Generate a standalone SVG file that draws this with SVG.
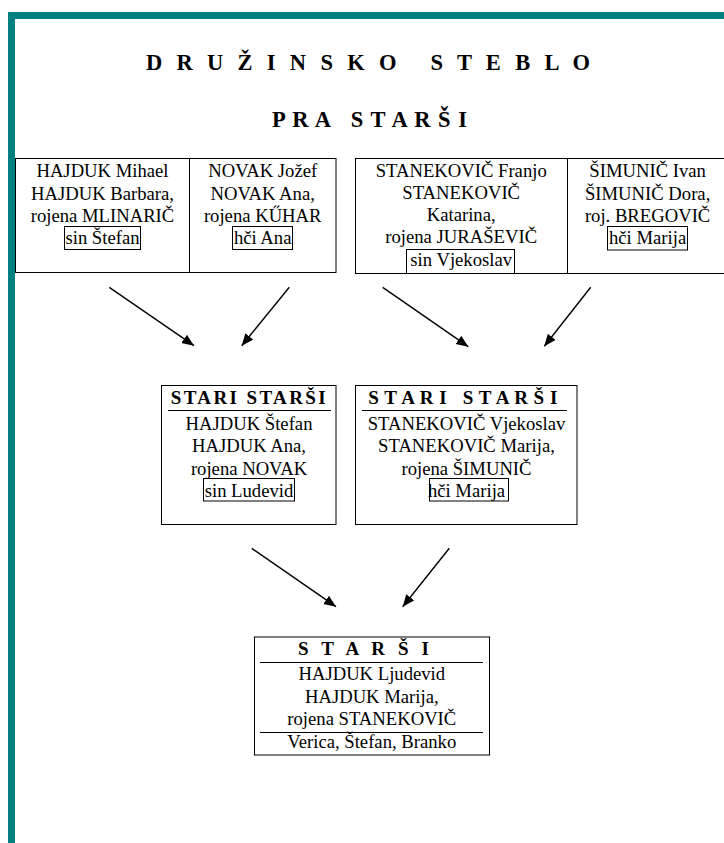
<svg xmlns="http://www.w3.org/2000/svg" width="724" height="843" viewBox="0 0 724 843">
<style>
  .t { font-family: "Liberation Serif", "Times New Roman", serif; font-size: 18.67px; fill: #000; text-anchor: middle; }
  .h { font-family: "Liberation Serif", "Times New Roman", serif; font-size: 19px; font-weight: bold; fill: #000; white-space: pre; }
  .title { font-family: "Liberation Serif", "Times New Roman", serif; font-size: 22.5px; font-weight: bold; fill: #000; white-space: pre; }
  .box { fill: none; stroke: #000; stroke-width: 1; }
  .rule { stroke: #000; stroke-width: 1; }
  .conn { stroke: #000; stroke-width: 1.4; fill: none; marker-end: url(#arr); }
</style>
<defs>
  <marker id="arr" markerUnits="userSpaceOnUse" markerWidth="13" markerHeight="11" refX="12" refY="5" orient="auto">
    <path d="M0,0 L12,5 L0,10 z" fill="#000"/>
  </marker>
</defs>
<rect x="0" y="0" width="724" height="843" fill="#fff"/>
<g id="frame">
  <rect x="8" y="12" width="716" height="7" fill="#008080"/>
  <rect x="8" y="12" width="7" height="831" fill="#008080"/>
</g>
<g id="titles">
  <text class="title" xml:space="preserve" x="146" y="70" textLength="444" lengthAdjust="spacing">D R U Ž I N S K O   S T E B L O</text>
  <text class="title" xml:space="preserve" x="272" y="126.5" textLength="195" lengthAdjust="spacing">P R A   S T A R Š I</text>
</g>
<g id="pra-levo">
  <rect class="box" x="15.5" y="158.5" width="320.5" height="114"/>
  <line class="rule" x1="189.5" y1="158.5" x2="189.5" y2="272.5"/>
  <g id="hajduk-mihael">
    <text class="t" x="102.5" y="177.3">HAJDUK Mihael</text>
    <text class="t" x="102.5" y="199.6">HAJDUK Barbara,</text>
    <text class="t" x="102.5" y="221.9">rojena MLINARIČ</text>
    <text class="t" x="102.5" y="244.2">sin Štefan</text>
    <rect class="box" x="64.5" y="226.5" width="76" height="23"/>
  </g>
  <g id="novak-jozef">
    <text class="t" x="262.7" y="177.3">NOVAK Jožef</text>
    <text class="t" x="262.7" y="199.6">NOVAK Ana,</text>
    <text class="t" x="262.7" y="221.9">rojena KŰHAR</text>
    <text class="t" x="262.7" y="244.2">hči Ana</text>
    <rect class="box" x="232.5" y="226.5" width="60" height="23"/>
  </g>
</g>
<g id="pra-desno">
  <rect class="box" x="355.5" y="158.5" width="375" height="115"/>
  <line class="rule" x1="567.5" y1="158.5" x2="567.5" y2="273.5"/>
  <g id="stanekovic-franjo">
    <text class="t" x="461.2" y="176.5">STANEKOVIČ Franjo</text>
    <text class="t" x="461.2" y="198.8">STANEKOVIČ</text>
    <text class="t" x="461.2" y="221.1">Katarina,</text>
    <text class="t" x="461.2" y="243.4">rojena JURAŠEVIČ</text>
    <text class="t" x="461.2" y="265.7">sin Vjekoslav</text>
    <rect class="box" x="406.5" y="249.5" width="108" height="24"/>
  </g>
  <g id="simunic-ivan">
    <text class="t" x="647.6" y="177.3">ŠIMUNIČ Ivan</text>
    <text class="t" x="647.6" y="199.6">ŠIMUNIČ Dora,</text>
    <text class="t" x="647.6" y="221.9">roj. BREGOVIČ</text>
    <text class="t" x="647.6" y="244.2">hči Marija</text>
    <rect class="box" x="607.5" y="226.5" width="80" height="23.5"/>
  </g>
</g>
<g id="stari-starsi-hajduk">
  <rect class="box" x="161.5" y="385.5" width="174.5" height="139"/>
  <text class="h" x="170.7" y="404.3" textLength="155" lengthAdjust="spacing">STARI STARŠI</text>
  <line class="rule" x1="168" y1="410.5" x2="331" y2="410.5"/>
  <text class="t" x="249" y="430">HAJDUK Štefan</text>
  <text class="t" x="249" y="452.3">HAJDUK Ana,</text>
  <text class="t" x="249" y="474.6">rojena NOVAK</text>
  <text class="t" x="249" y="496.9">sin Ludevid</text>
  <rect class="box" x="203.5" y="478.5" width="91" height="22.5"/>
</g>
<g id="stari-starsi-stanekovic">
  <rect class="box" x="355.5" y="385.5" width="221.5" height="139"/>
  <text class="h" xml:space="preserve" x="368.3" y="403.5" textLength="189" lengthAdjust="spacing">S T A R I   S T A R Š I</text>
  <line class="rule" x1="362" y1="410.5" x2="567" y2="410.5"/>
  <text class="t" x="466.5" y="430">STANEKOVIČ Vjekoslav</text>
  <text class="t" x="466.5" y="452.3">STANEKOVIČ Marija,</text>
  <text class="t" x="466.5" y="474.6">rojena ŠIMUNIČ</text>
  <text class="t" x="466.5" y="496.9">hči Marija</text>
  <rect class="box" x="429.5" y="478.5" width="79" height="22.5"/>
</g>
<g id="starsi">
  <rect class="box" x="254.5" y="637" width="235" height="118"/>
  <text class="h" x="298" y="655" textLength="131" lengthAdjust="spacing">S T A R Š I</text>
  <line class="rule" x1="260" y1="662.5" x2="483" y2="662.5"/>
  <text class="t" x="371.8" y="680.3">HAJDUK Ljudevid</text>
  <text class="t" x="371.8" y="702.6">HAJDUK Marija,</text>
  <text class="t" x="371.8" y="724.9">rojena STANEKOVIČ</text>
  <line class="rule" x1="260" y1="732.5" x2="483" y2="732.5"/>
  <text class="t" x="371.8" y="748.3">Verica, Štefan, Branko</text>
</g>
<g id="connectors">
  <line class="conn" x1="109.3" y1="287.3" x2="194" y2="345.7"/>
  <line class="conn" x1="289.3" y1="287.3" x2="241.7" y2="345.7"/>
  <line class="conn" x1="382.7" y1="287.3" x2="468.3" y2="346.7"/>
  <line class="conn" x1="590.7" y1="287.3" x2="544.3" y2="346.3"/>
  <line class="conn" x1="251.7" y1="548.3" x2="336" y2="606.7"/>
  <line class="conn" x1="449.3" y1="548.3" x2="402.7" y2="606.7"/>
</g>
</svg>
